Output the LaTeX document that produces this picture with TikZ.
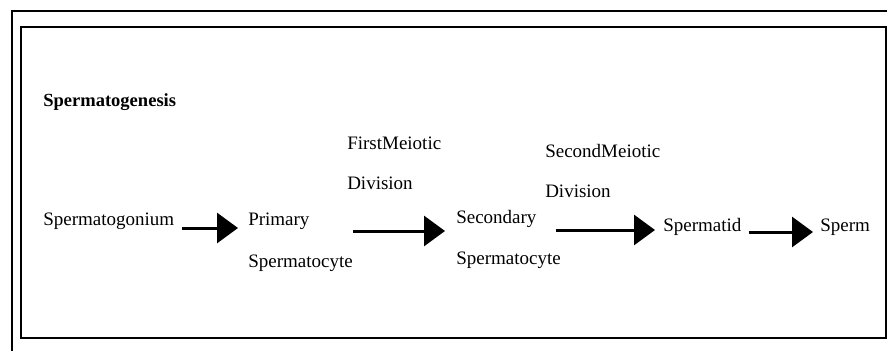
\documentclass[tikz,border=0pt]{standalone}
\usepackage{fontspec}
\setmainfont{Liberation Serif}
\usetikzlibrary{arrows.meta}
\begin{document}
\begin{tikzpicture}[x=0.75pt,y=-0.75pt,
  lbl/.style={anchor=base west, inner sep=0pt, font=\fontsize{14.25}{17}\selectfont},
  ttl/.style={anchor=base west, inner sep=0pt, font=\fontsize{13.9}{17}\selectfont\bfseries},
  flow/.style={line width=2.25pt, -{Triangle[length=15.75pt,width=22.5pt]}},
  frame/.style={line width=1.5pt}]
\useasboundingbox (0,0) rectangle (887,350);
% outer and inner frames
\draw[frame] (12,352) -- (12,11) -- (889,11);
\draw[frame] (21,27) rectangle (886,338);
% title
\node[ttl] (title) at (43,106) {Spermatogenesis};
% stages
\node[lbl] (sg)    at (43,225)  {Spermatogonium};
\node[lbl] (prim)  at (248,225) {Primary};
\node[lbl] (primb) at (248,267) {Spermatocyte};
\node[lbl] (sec)   at (456,223) {Secondary};
\node[lbl] (secb)  at (456,264) {Spermatocyte};
\node[lbl] (tid)   at (663,231) {Spermatid};
\node[lbl] (sperm) at (820,231) {Sperm};
% division labels
\node[lbl] (m1)  at (347,149) {FirstMeiotic};
\node[lbl] (m1b) at (347,189) {Division};
\node[lbl] (m2)  at (545,157) {SecondMeiotic};
\node[lbl] (m2b) at (545,197) {Division};
% flow arrows
\draw[flow, shorten <=6pt, shorten >=7.5pt] (sg.east |- 0,228) -- (prim.west |- 0,228);
\draw[flow, shorten <=0pt, shorten >=8.25pt] (primb.east |- 0,231) -- (sec.west |- 0,231);
\draw[flow, shorten <=14.25pt, shorten >=6pt] (sec.east |- 0,230) -- (tid.west |- 0,230);
\draw[flow, shorten <=5.25pt, shorten >=5.25pt] (tid.east |- 0,232) -- (sperm.west |- 0,232);
\end{tikzpicture}
\end{document}
